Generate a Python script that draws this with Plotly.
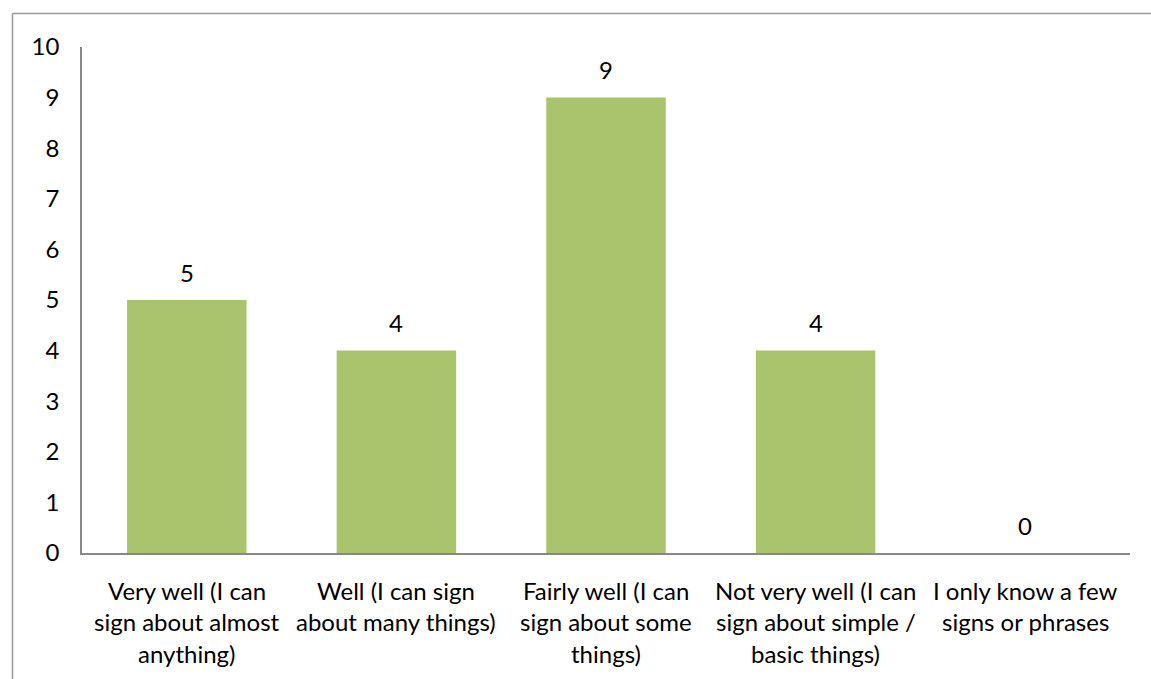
import plotly.graph_objects as go

# Survey responses: self-rated signing ability
categories = [
    "Very well (I can sign about almost anything)",
    "Well (I can sign about many things)",
    "Fairly well (I can sign about some things)",
    "Not very well (I can sign about simple / basic things)",
    "I only know a few signs or phrases",
]
label_lines = [
    ["Very well (I can", "sign about almost", "anything)"],
    ["Well (I can sign", "about many things)"],
    ["Fairly well (I can", "sign about some", "things)"],
    ["Not very well (I can", "sign about simple /", "basic things)"],
    ["I only know a few", "signs or phrases"],
]
counts = [5, 4, 9, 4, 0]
y_ticks = list(range(0, 11))

W, H = 1151, 679
ML, MR, MT, MB = 82, 21, 47, 126
FONT = "Lato, Calibri, sans-serif"
FS = 24
BAR = "#AAC46E"
AXIS = "#888888"

fig = go.Figure(
    go.Bar(
        x=categories,
        y=counts,
        marker=dict(color=BAR, line=dict(width=0)),
        width=0.57,
        hoverinfo="skip",
    )
)

annotations = []
# value labels above each bar
for c, v in zip(categories, counts):
    annotations.append(dict(
        x=c, y=v, xref="x", yref="y", text=str(v), showarrow=False,
        xanchor="center", yanchor="middle", yshift=28,
        font=dict(family=FONT, size=FS, color="#000000"),
    ))
# multi-line category labels under the axis
line_offsets = [37, 68.5, 100]
for c, lines in zip(categories, label_lines):
    for i, ln in enumerate(lines):
        annotations.append(dict(
            x=c, y=0, xref="x", yref="y", text=ln, showarrow=False,
            xanchor="center", yanchor="middle", yshift=-line_offsets[i],
            font=dict(family=FONT, size=FS, color="#000000"),
        ))

# chart-area border (left and top edges)
pw = W - ML - MR
ph = H - MT - MB
def px_to_paper_x(px):
    return (px - ML) / pw
def px_to_paper_y(py):
    return (H - MB - py) / ph

border_x = px_to_paper_x(12.5)
border_y = px_to_paper_y(13.5)
shapes = [
    dict(type="line", xref="paper", yref="paper",
         x0=border_x, x1=border_x, y0=px_to_paper_y(H + 5), y1=border_y,
         line=dict(color="#9A9A9A", width=1.5)),
    dict(type="line", xref="paper", yref="paper",
         x0=border_x, x1=px_to_paper_x(W + 5), y0=border_y, y1=border_y,
         line=dict(color="#9A9A9A", width=1.5)),
]

fig.update_layout(
    width=W, height=H,
    margin=dict(l=ML, r=MR, t=MT, b=MB, pad=0),
    paper_bgcolor="white", plot_bgcolor="white",
    showlegend=False,
    bargap=0.43,
    font=dict(family=FONT, size=FS, color="#000000"),
    annotations=annotations,
    shapes=shapes,
    xaxis=dict(
        showticklabels=False, ticks="", showgrid=False, zeroline=False,
        showline=True, linecolor=AXIS, linewidth=1.5,
    ),
    yaxis=dict(
        range=[0, 10], tickvals=y_ticks, ticks="", showgrid=False,
        zeroline=False, showline=True, linecolor=AXIS, linewidth=1.5,
        ticklabelstandoff=16,
        tickfont=dict(family=FONT, size=FS, color="#000000"),
    ),
)

fig.write_html("out.html")
